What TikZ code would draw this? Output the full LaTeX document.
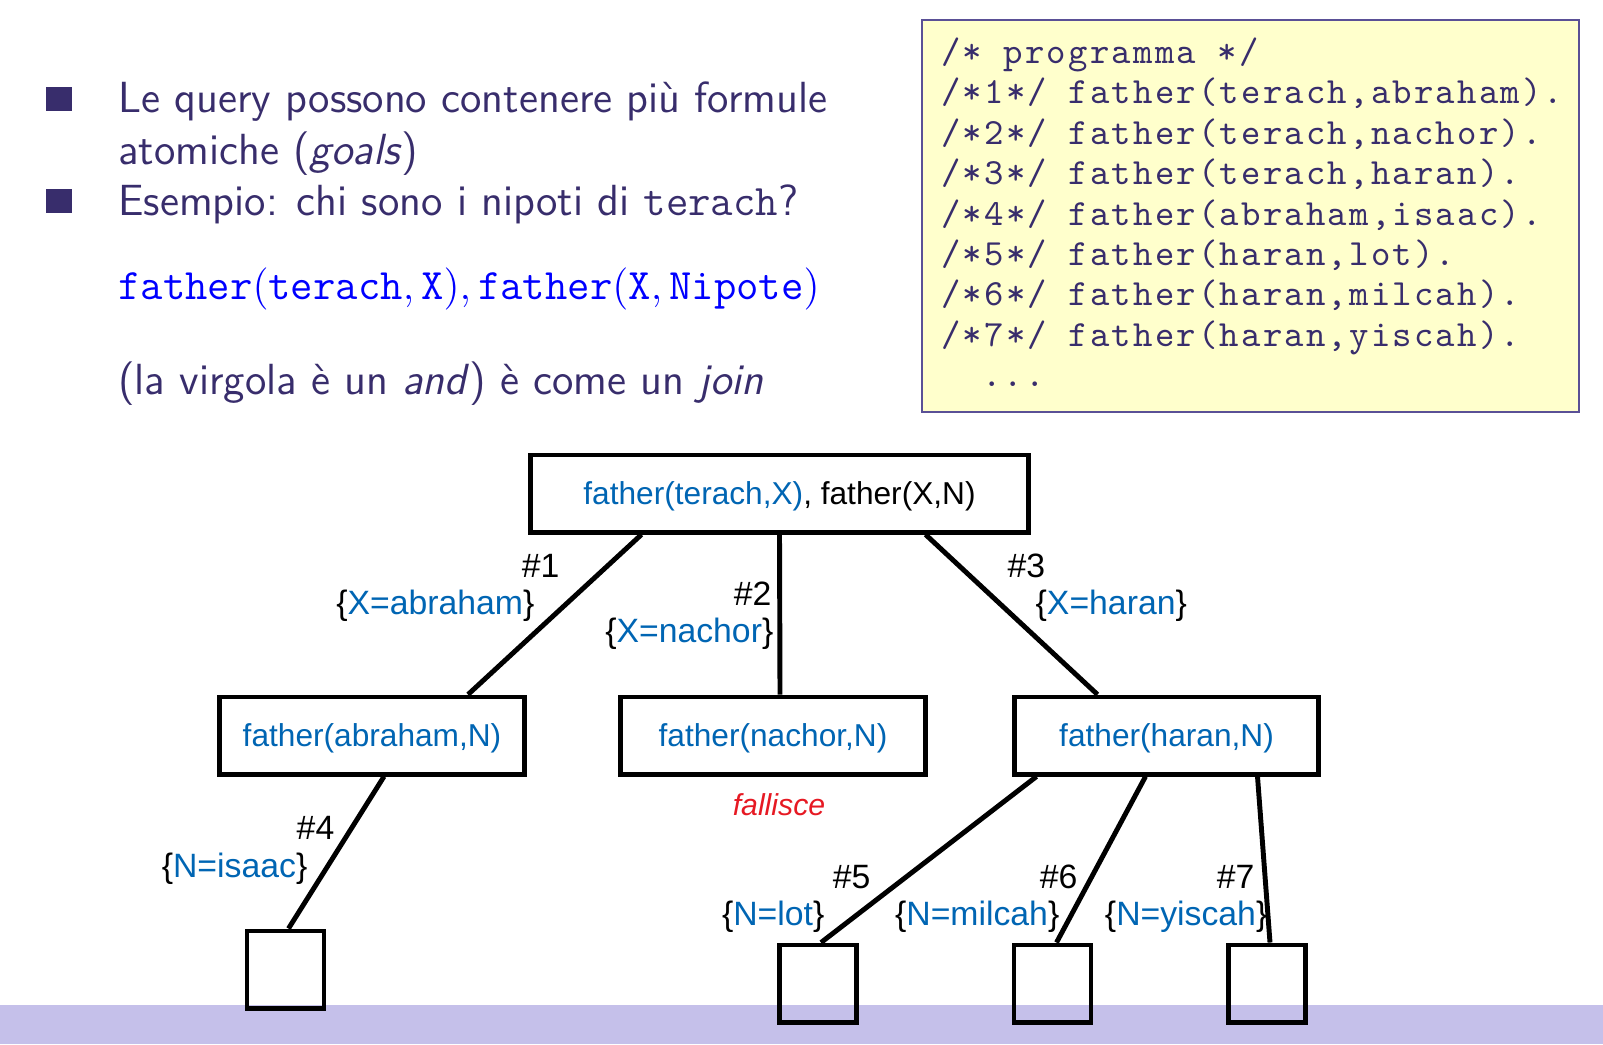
\documentclass[tikz,border=0pt]{standalone}
\usepackage{fontspec}
\usetikzlibrary{calc}
\newfontfamily\arialfont{Liberation Sans}
\newfontfamily\progfont[LetterSpace=6.0]{lmmono10-regular.otf}
\definecolor{slidetext}{RGB}{56,45,108}
\definecolor{slideframe}{RGB}{90,80,150}
\definecolor{codebg}{RGB}{255,255,204}
\definecolor{footbar}{RGB}{197,192,234}
\definecolor{treeblue}{RGB}{0,101,179}
\definecolor{failred}{RGB}{230,25,35}
\definecolor{queryblue}{RGB}{0,0,255}
\newcommand\progdots{\phantom{xx}...}

\tikzset{
  body/.style={anchor=base west, inner sep=0pt, text=slidetext, font=\sffamily\fontsize{12.4}{15}\selectfont},
  codeline/.style={anchor=base west, inner sep=0pt, text=slidetext, font=\progfont\fontsize{10.5}{12}\selectfont},
  goal/.style={draw, line width=1.4pt, fill=white, minimum width=3.04cm, minimum height=0.77cm, inner sep=0pt, text depth=0pt, font=\arialfont\fontsize{9}{11}\selectfont, text=treeblue},
  leaf/.style={draw, line width=1.4pt, minimum size=0.77cm, inner sep=0pt},
  lbl/.style={inner sep=0pt, font=\arialfont\fontsize{9.6}{11}\selectfont},
  branch/.style={line width=1.4pt},
}

\begin{document}
\begin{tikzpicture}[x=0.01cm, y=-0.01cm]
\useasboundingbox (0,0) rectangle (1603,1044);
% footer bar
\fill[footbar] (0,1005) rectangle (1603,1044);

% bullet text
\fill[slidetext] (46,87) rectangle (72,111);
\fill[slidetext] (46,189) rectangle (72,213);
\node[body] (item1) at (117.6,112) {Le query possono contenere più formule};
\node[body] (item1b) at (117.6,164) {atomiche (\textit{goals})};
\node[body] (item2) at (117.6,215) {Esempio: chi sono i nipoti di \texttt{terach}?};
\node[body, text=queryblue, font=\fontsize{12.35}{15}\selectfont] (query) at (117.6,299)
  {$\mathtt{father}(\mathtt{terach}, \mathtt{X}), \mathtt{father}(\mathtt{X}, \mathtt{Nipote})$};
\node[body] (note) at (117.6,394) {(la virgola è un \textit{and}) è come un \textit{join}};

% program
\draw[slideframe, fill=codebg, line width=0.6pt] (922,20) rectangle (1579,412);
\foreach \ln [count=\i from 0] in {{/* programma */}, {/*1*/ father(terach,abraham).},
  {/*2*/ father(terach,nachor).}, {/*3*/ father(terach,haran).},
  {/*4*/ father(abraham,isaac).}, {/*5*/ father(haran,lot).},
  {/*6*/ father(haran,milcah).}, {/*7*/ father(haran,yiscah).}, {\progdots}}{
  \node[codeline] (code\i) at (940.5, {63.5 + 40.4*\i}) {\ln};
}

% SLD tree
\node[goal, minimum width=4.97cm, text=black] (root) at (779.5,493.5)
  {\textcolor{treeblue}{father(terach,X)}, father(X,N)};
\node[goal] (abr) at (372,735.5) {father(abraham,N)};
\node[goal] (nac) at (773,735.5) {father(nachor,N)};
\node[goal] (har) at (1166.5,735.5) {father(haran,N)};

\node[leaf] (isaac) at (285.5,969.5) {};
\node[leaf] (lot) at (818,983.5) {};
\node[leaf] (milcah) at (1052.5,983.5) {};
\node[leaf] (yiscah) at (1267,983.5) {};

\draw[branch] ($(root.south)+(-138,0)$) -- ($(abr.north)+(96,0)$);
\draw[branch] (root.south) -- ($(nac.north)+(7,0)$);
\draw[branch] ($(root.south)+(146,0)$) -- ($(har.north)+(-69,0)$);
\draw[branch] ($(abr.south)+(12,0)$) -- ($(isaac.north)+(3,0)$);
\draw[branch] ($(har.south)+(-130,0)$) -- ($(lot.north)+(3,0)$);
\draw[branch] ($(har.south)+(-21,0)$) -- ($(milcah.north)+(4,0)$);
\draw[branch] ($(har.south)+(91,0)$) -- ($(yiscah.north)+(3,0)$);

\node[lbl, anchor=base east] (n1) at (560,577) {\#1};
\node[lbl, anchor=base east] (s1) at (535,614) {\{\textcolor{treeblue}{X=abraham}\}};
\node[lbl, anchor=base east] (n2) at (772,605) {\#2};
\node[lbl, anchor=base east] (s2) at (774,642) {\{\textcolor{treeblue}{X=nachor}\}};
\node[lbl, anchor=base west] (n3) at (1007,577) {\#3};
\node[lbl, anchor=base west] (s3) at (1035,614) {\{\textcolor{treeblue}{X=haran}\}};
\node[lbl, anchor=base east] (n4) at (335,839) {\#4};
\node[lbl, anchor=base east] (s4) at (308,877) {\{\textcolor{treeblue}{N=isaac}\}};
\node[lbl, anchor=base, text=failred, font=\arialfont\itshape\fontsize{8.6}{11}\selectfont] (fail) at (779,815) {fallisce};
\node[lbl, anchor=base east] (n5) at (871,888) {\#5};
\node[lbl, anchor=base east] (s5) at (825,925) {\{\textcolor{treeblue}{N=lot}\}};
\node[lbl, anchor=base east] (n6) at (1078,888) {\#6};
\node[lbl, anchor=base east] (s6) at (1060,925) {\{\textcolor{treeblue}{N=milcah}\}};
\node[lbl, anchor=base east] (n7) at (1255,888) {\#7};
\node[lbl, anchor=base east] (s7) at (1268,925) {\{\textcolor{treeblue}{N=yiscah}\}};
\end{tikzpicture}
\end{document}
